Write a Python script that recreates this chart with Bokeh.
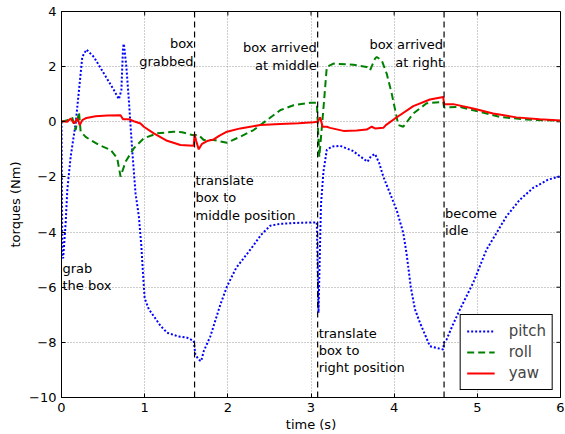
import math
from bokeh.plotting import figure
from bokeh.models import Range1d, Span, FixedTicker, CustomJSTickFormatter, ColumnDataSource
from bokeh.core.properties import value
from bokeh.embed import file_html
from bokeh.resources import INLINE

FONT = "DejaVu Sans"

# ---- data ----
pitch_t = [0.0, 0.01, 0.02, 0.05, 0.07, 0.11, 0.17, 0.21, 0.25, 0.30, 0.39, 0.51, 0.63, 0.69,
           0.72, 0.74, 0.75, 0.78, 0.81, 0.85, 0.89, 0.93, 0.96, 0.98, 1.00, 1.05, 1.11, 1.19,
           1.27, 1.40, 1.51, 1.59, 1.61, 1.65, 1.68, 1.71, 1.79, 1.91, 1.99, 2.10, 2.27, 2.40,
           2.51, 2.63, 2.75, 2.90, 3.07, 3.09, 3.12, 3.15, 3.19, 3.25, 3.35, 3.50, 3.68, 3.72,
           3.77, 3.82, 3.87, 3.95, 4.03, 4.11, 4.15, 4.20, 4.25, 4.31, 4.43, 4.51, 4.59, 4.60,
           4.63, 4.70, 4.79, 4.95, 5.11, 5.35, 5.51, 5.67, 5.85, 6.00]
pitch_v = [0.0, -4.9, -4.95, -3.67, -2.47, -1.27, -0.06, 1.14, 2.35, 2.62, 2.35, 1.75, 1.15, 0.82,
           1.15, 2.71, 2.83, 1.99, 0.78, -1.02, -2.59, -3.43, -4.5, -5.5, -6.4, -6.8, -7.05, -7.4,
           -7.65, -7.78, -7.83, -7.95, -8.44, -8.63, -8.68, -8.32, -7.78, -6.63, -5.97, -5.3, -4.64, -4.1,
           -3.77, -3.7, -3.68, -3.66, -3.65, -6.93, -3.0, -1.8, -1.02, -0.9, -0.87, -1.05, -1.45, -1.25,
           -1.17, -1.5, -1.99, -2.6, -3.2, -4.04, -4.8, -6.0, -6.8, -7.29, -8.14, -8.2, -8.26, -8.0,
           -7.9, -7.4, -6.81, -5.84, -4.64, -3.43, -2.83, -2.4, -2.1, -1.97]

roll_t = [0.0, 0.07, 0.13, 0.17, 0.21, 0.23, 0.29, 0.45, 0.59, 0.67, 0.71, 0.77, 0.87, 0.99,
          1.15, 1.35, 1.45, 1.57, 1.65, 1.71, 1.83, 1.99, 2.15, 2.31, 2.47, 2.63, 2.79, 2.99,
          3.07, 3.10, 3.15, 3.19, 3.27, 3.51, 3.67, 3.71, 3.77, 3.79, 3.85, 3.91, 3.97, 4.05,
          4.11, 4.23, 4.39, 4.59, 4.60, 4.79, 5.03, 5.27, 5.59, 5.95, 6.00]
roll_v = [0.0, 0.06, 0.15, -0.3, 0.35, -0.35, -0.55, -0.84, -1.02, -1.32, -1.99, -1.45, -0.96, -0.6,
          -0.42, -0.36, -0.38, -0.48, -0.48, -0.66, -0.66, -0.76, -0.54, -0.3, 0.06, 0.42, 0.6, 0.69,
          0.69, -1.27, 0.5, 1.99, 2.11, 2.07, 1.99, 1.87, 2.29, 2.35, 2.23, 1.75, 1.03, -0.12,
          -0.18, 0.3, 0.67, 0.72, 0.52, 0.54, 0.36, 0.18, 0.08, 0.04, 0.03]

yaw_t = [0.0, 0.07, 0.11, 0.15, 0.19, 0.22, 0.25, 0.30, 0.41, 0.55, 0.71, 0.74, 0.81, 0.87,
         0.95, 0.99, 1.11, 1.27, 1.43, 1.59, 1.60, 1.62, 1.65, 1.69, 1.75, 1.83, 1.90, 1.99,
         2.15, 2.39, 2.63, 2.85, 3.03, 3.08, 3.11, 3.14, 3.19, 3.23, 3.39, 3.55, 3.67, 3.73,
         3.77, 3.87, 3.90, 4.01, 4.23, 4.43, 4.59, 4.60, 4.71, 4.95, 5.19, 5.47, 5.75, 6.00]
yaw_v = [0.02, 0.0, 0.12, -0.06, 0.12, -0.12, 0.06, 0.14, 0.2, 0.23, 0.24, 0.09, 0.09, 0.02,
         -0.06, -0.18, -0.42, -0.69, -0.84, -0.87, -0.45, -0.7, -1.0, -0.8, -0.7, -0.64, -0.5, -0.36,
         -0.24, -0.12, -0.08, -0.05, -0.02, 0.0, 0.16, -0.18, -0.18, -0.22, -0.33, -0.32, -0.28, -0.18,
         -0.24, -0.22, -0.12, 0.12, 0.57, 0.81, 0.9, 0.64, 0.64, 0.48, 0.3, 0.16, 0.09, 0.05]

event_times = [1.6, 3.08, 4.6]

labels_right = ["box\ngrabbed", "box arrived\nat middle", "box arrived\nat right"]
labels_right_x = [1.6, 3.08, 4.6]
labels_right_y = [3.1, 2.95, 3.06]

labels_left = ["grab\nthe box", "translate\nbox to\nmiddle position",
               "translate\nbox to\nright position", "become\nidle"]
labels_left_x = [0.0, 1.6, 3.08, 4.6]
labels_left_y = [-5.04, -1.86, -7.39, -3.05]

x_ticks = [0, 1, 2, 3, 4, 5, 6]
y_ticks = [-10, -8, -6, -4, -2, 0, 2, 4]

# ---- figure ----
p = figure(width=565, height=434, output_backend="svg", toolbar_location=None,
           x_range=Range1d(x_ticks[0], x_ticks[-1]), y_range=Range1d(y_ticks[0], y_ticks[-1]),
           min_border_left=61, min_border_right=5, min_border_top=11, min_border_bottom=35)
p.background_fill_color = "white"
p.border_fill_color = "white"
p.outline_line_color = "black"
p.outline_line_width = 1
p.outline_line_alpha = 1

fmt = CustomJSTickFormatter(code="return tick < 0 ? '\\u2212' + Math.abs(tick) : String(tick);")

for ax, ticks in ((p.xaxis[0], x_ticks), (p.yaxis[0], y_ticks)):
    ax.ticker = FixedTicker(ticks=ticks)
    ax.formatter = fmt
    ax.major_tick_in = 4
    ax.major_tick_out = 0
    ax.minor_tick_line_color = None
    ax.major_tick_line_color = "black"
    ax.axis_line_color = "black"
    ax.major_label_text_font = FONT
    ax.major_label_text_font_size = "13px"
    ax.major_label_text_color = "black"
    ax.axis_label_text_font = FONT
    ax.axis_label_text_font_size = "13px"
    ax.axis_label_text_font_style = "normal"
    ax.axis_label_text_color = "black"

p.xaxis.axis_label = "time (s)"
p.yaxis.axis_label = "torques (Nm)"
p.xaxis.major_label_standoff = 5
p.xaxis.axis_label_standoff = 2
p.yaxis.major_label_standoff = 5
p.yaxis.axis_label_standoff = 3

p.xgrid.ticker = FixedTicker(ticks=x_ticks)
p.ygrid.ticker = FixedTicker(ticks=y_ticks)
for g in (p.xgrid[0], p.ygrid[0]):
    g.grid_line_color = "#9a9a9a"
    g.grid_line_width = 1
    g.grid_line_dash = "1 2"

# inward tick marks on the right and top edges of the frame
p.ray(x=[x_ticks[-1]] * len(y_ticks), y=y_ticks, length=4, length_units="screen",
      angle=math.pi, line_color="black", line_width=1)
p.ray(x=x_ticks, y=[y_ticks[-1]] * len(x_ticks), length=4, length_units="screen",
      angle=-math.pi / 2, line_color="black", line_width=1)

for t in event_times:
    p.add_layout(Span(location=t, dimension="height", line_color="black",
                      line_width=1.2, line_dash="6 4"))

p.line(pitch_t, pitch_v, line_color="#0000ff", line_width=2, line_dash="2 2", legend_label="pitch")
p.line(roll_t, roll_v, line_color="#008000", line_width=2, line_dash="7 4", legend_label="roll")
p.line(yaw_t, yaw_v, line_color="#ff0000", line_width=2, legend_label="yaw")

src_r = ColumnDataSource(dict(x=labels_right_x, y=labels_right_y, text=labels_right))
src_l = ColumnDataSource(dict(x=labels_left_x, y=labels_left_y, text=labels_left))
p.text(x="x", y="y", text="text", source=src_r, text_align="right", text_baseline="top",
       x_offset=-1, text_font=value(FONT), text_font_size="13px", text_color="black",
       text_line_height=1.15)
p.text(x="x", y="y", text="text", source=src_l, text_align="left", text_baseline="top",
       x_offset=1, text_font=value(FONT), text_font_size="13px", text_color="black",
       text_line_height=1.15)

lg = p.legend[0]
lg.location = "bottom_right"
lg.margin = 7
lg.padding = 6
lg.spacing = 1
lg.label_height = 20
lg.glyph_height = 20
lg.glyph_width = 28
lg.label_standoff = 14
lg.label_text_font = FONT
lg.label_text_font_size = "15px"
lg.border_line_color = "black"
lg.border_line_width = 1
lg.border_line_alpha = 1
lg.background_fill_alpha = 1

open("out.html", "w").write(file_html(p, INLINE))
